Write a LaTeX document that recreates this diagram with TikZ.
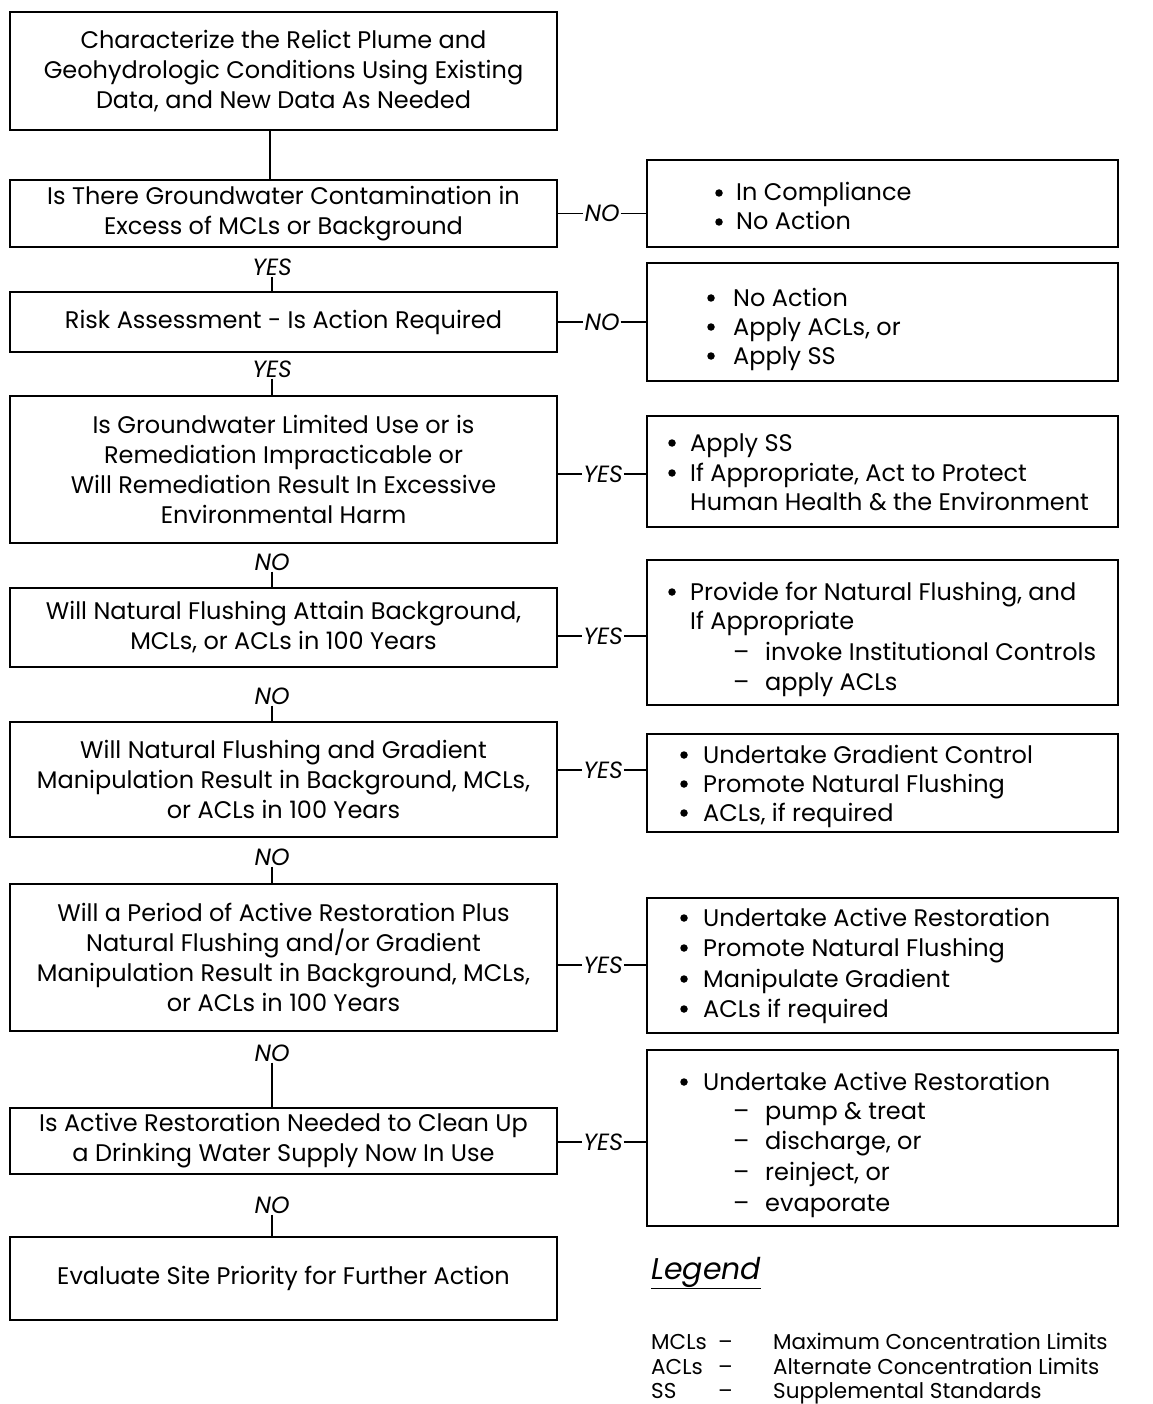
\documentclass[tikz,border=0pt]{standalone}
\usepackage{fontspec}
\setmainfont{Poppins}
\newcommand\mainfs{\fontsize{24}{30}\selectfont}
\newcommand\labfs{\fontsize{23.5}{26}\selectfont}
\newcommand\legfs{\fontsize{30}{34}\selectfont}
\newcommand\legrowfs{\fontsize{21.5}{25}\selectfont}
\begin{document}
\begin{tikzpicture}[x=1pt,y=-1pt,
  lbox/.style={draw, line width=1.7pt, minimum width=547pt, align=center, font=\mainfs, inner sep=0pt},
  rbox/.style={draw, line width=1.7pt, minimum width=471pt, inner sep=0pt},
  lab/.style={font=\labfs\itshape, inner sep=1pt},
  conn/.style={line width=1.7pt},
  rtext/.style={anchor=base west, font=\mainfs, inner sep=0pt},
  legtext/.style={anchor=base west, font=\legrowfs, inner sep=0pt},
  dot/.style={circle, fill, inner sep=0pt, minimum size=7.5pt}
]
\useasboundingbox[fill=white] (0,0) rectangle (1152,1404);
% left column
\node[lbox, minimum height=118pt] (b1) at (283.5,71) {Characterize the Relict Plume and\\Geohydrologic Conditions Using Existing\\Data, and New Data As Needed};
\node[lbox, minimum height=67pt] (b2) at (283.5,213.5) {Is There Groundwater Contamination in\\Excess of MCLs or Background};
\node[lbox, minimum height=60pt] (b3) at (283.5,322) {Risk Assessment - Is Action Required};
\node[lbox, minimum height=147pt] (b4) at (283.5,469.5) {Is Groundwater Limited Use or is\\Remediation Impracticable or\\Will Remediation Result In Excessive\\Environmental Harm};
\node[lbox, minimum height=79pt] (b5) at (283.5,627.5) {Will Natural Flushing Attain Background,\\MCLs, or ACLs in 100 Years};
\node[lbox, minimum height=115pt] (b6) at (283.5,779.5) {Will Natural Flushing and Gradient\\Manipulation Result in Background, MCLs,\\or ACLs in 100 Years};
\node[lbox, minimum height=147pt] (b7) at (283.5,957.5) {Will a Period of Active Restoration Plus\\Natural Flushing and/or Gradient\\Manipulation Result in Background, MCLs,\\or ACLs in 100 Years};
\node[lbox, minimum height=66pt] (b8) at (283.5,1141) {Is Active Restoration Needed to Clean Up\\a Drinking Water Supply Now In Use};
\node[lbox, minimum height=83pt] (b9) at (283.5,1278.5) {Evaluate Site Priority for Further Action};
% vertical labels
\node[lab] (v2) at (272,267) {YES};
\node[lab] (v3) at (272,369) {YES};
\node[lab] (v4) at (272,562) {NO};
\node[lab] (v5) at (272,696) {NO};
\node[lab] (v6) at (272,857) {NO};
\node[lab] (v7) at (272,1053) {NO};
\node[lab] (v8) at (272,1205) {NO};
\draw[conn] (b1.south -| 270,0) -- (b2.north -| 270,0);
\foreach \l/\b in {v2/b3, v3/b4, v4/b5, v5/b6, v6/b7, v7/b8, v8/b9}
  \draw[conn] (\l.south) -- (\l.south |- \b.north);
% right column
\node[rbox, minimum height=87pt] (r1) at (882.5,203.5) {};
\node[rbox, minimum height=118pt] (r2) at (882.5,322) {};
\node[rbox, minimum height=111pt] (r3) at (882.5,471.5) {};
\node[rbox, minimum height=145pt] (r4) at (882.5,632.5) {};
\node[rbox, minimum height=98pt] (r5) at (882.5,783) {};
\node[rbox, minimum height=135pt] (r6) at (882.5,965.5) {};
\node[rbox, minimum height=176pt] (r7) at (882.5,1138) {};
% horizontal labels
\node[lab] (h1) at (602,213.5) {NO};
\node[lab] (h2) at (602,322) {NO};
\node[lab] (h3) at (603,474) {YES};
\node[lab] (h4) at (603,636) {YES};
\node[lab] (h5) at (603,770) {YES};
\node[lab] (h6) at (603,965) {YES};
\node[lab] (h7) at (603,1142) {YES};
\foreach \a/\l/\r in {b2/h1/r1, b3/h2/r2, b4/h3/r3, b5/h4/r4, b6/h5/r5, b7/h6/r6, b8/h7/r7}
  \draw[conn] (\a.east |- \l) -- (\l) -- (\l -| \r.west);
% right texts
\node[dot] (t1a) at (719,193) {};
\node[rtext] (t1b) at (736,201) {In Compliance};
\node[dot] (t1c) at (719,222) {};
\node[rtext] (t1d) at (736,230) {No Action};
\node[dot] (t2a) at (711,298) {};
\node[rtext] (t2b) at (733,306) {No Action};
\node[dot] (t2c) at (711,327) {};
\node[rtext] (t2d) at (733,335) {Apply ACLs, or};
\node[dot] (t2e) at (711,356) {};
\node[rtext] (t2f) at (733,364) {Apply SS};
\node[dot] (t3a) at (672,443) {};
\node[rtext] (t3b) at (690,451) {Apply SS};
\node[dot] (t3c) at (672,473) {};
\node[rtext] (t3d) at (690,481) {If Appropriate, Act to Protect};
\node[rtext] (t3e) at (690,510) {Human Health \& the Environment};
\node[dot] (t4a) at (672,592) {};
\node[rtext] (t4b) at (690,600) {Provide for Natural Flushing, and};
\node[rtext] (t4c) at (690,629) {If Appropriate};
\node[rtext] (t4d) at (733,660) {–};
\node[rtext] (t4e) at (765,660) {invoke Institutional Controls};
\node[rtext] (t4f) at (733,690) {–};
\node[rtext] (t4g) at (765,690) {apply ACLs};
\node[dot] (t5a) at (684,755) {};
\node[rtext] (t5b) at (703,763) {Undertake Gradient Control};
\node[dot] (t5c) at (684,784) {};
\node[rtext] (t5d) at (703,792) {Promote Natural Flushing};
\node[dot] (t5e) at (684,813) {};
\node[rtext] (t5f) at (703,821) {ACLs, if required};
\node[dot] (t6a) at (684,918) {};
\node[rtext] (t6b) at (703,926) {Undertake Active Restoration};
\node[dot] (t6c) at (684,948) {};
\node[rtext] (t6d) at (703,956) {Promote Natural Flushing};
\node[dot] (t6e) at (684,979) {};
\node[rtext] (t6f) at (703,987) {Manipulate Gradient};
\node[dot] (t6g) at (684,1009) {};
\node[rtext] (t6h) at (703,1017) {ACLs if required};
\node[dot] (t7a) at (684,1082) {};
\node[rtext] (t7b) at (703,1090) {Undertake Active Restoration};
\node[rtext] (t7c) at (733,1119) {–};
\node[rtext] (t7d) at (765,1119) {pump \& treat};
\node[rtext] (t7e) at (733,1149) {–};
\node[rtext] (t7f) at (765,1149) {discharge, or};
\node[rtext] (t7g) at (733,1180) {–};
\node[rtext] (t7h) at (765,1180) {reinject, or};
\node[rtext] (t7i) at (733,1211) {–};
\node[rtext] (t7j) at (765,1211) {evaporate};
% legend
\node[anchor=base west, inner sep=0pt, font=\legfs\itshape] (leg) at (651,1279) {\underline{Legend}};
\node[legtext] (m1) at (651,1349) {MCLs};
\node[legtext] (m2) at (718,1349) {–};
\node[legtext] (m3) at (773,1349) {Maximum Concentration Limits};
\node[legtext] (a1) at (651,1374) {ACLs};
\node[legtext] (a2) at (718,1374) {–};
\node[legtext] (a3) at (773,1374) {Alternate Concentration Limits};
\node[legtext] (s1) at (651,1398) {SS};
\node[legtext] (s2) at (718,1398) {–};
\node[legtext] (s3) at (773,1398) {Supplemental Standards};
\end{tikzpicture}
\end{document}
